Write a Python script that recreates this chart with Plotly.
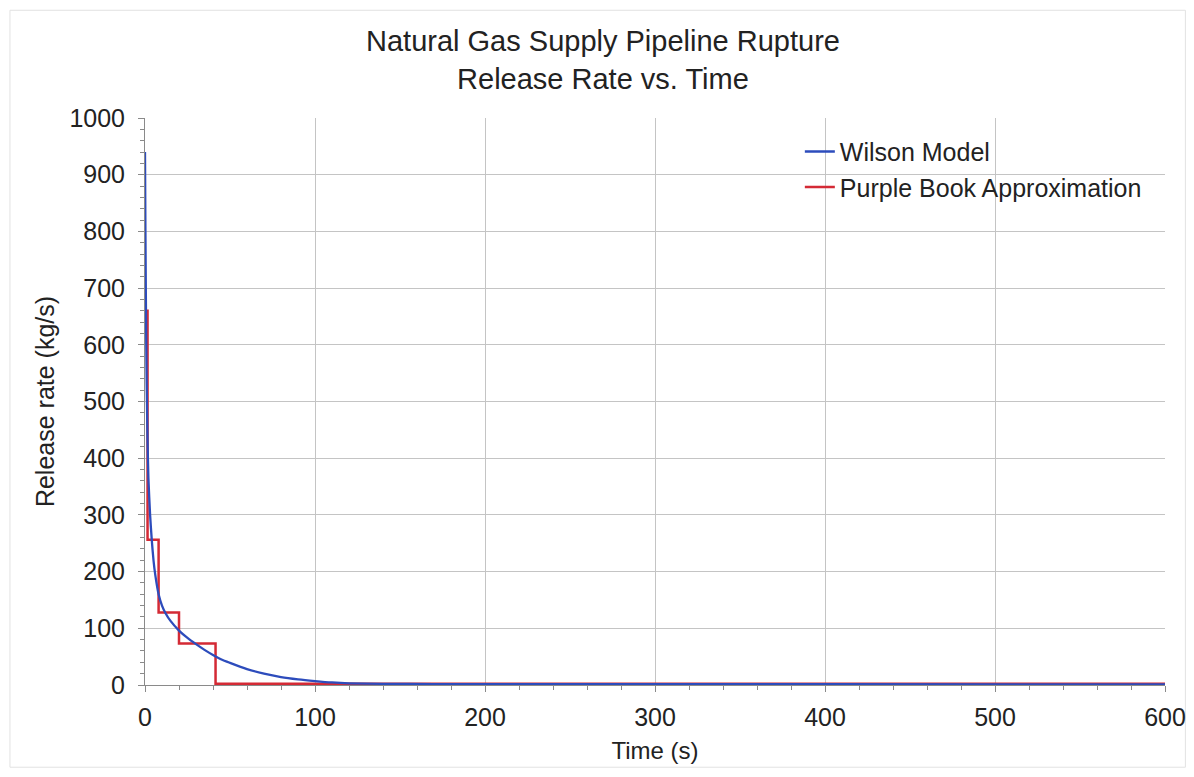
import plotly.graph_objects as go

# Wilson model
wilson_t = [0, 0.25, 0.5, 0.75, 1, 1.5, 2, 3, 4, 5, 6, 8, 10, 12, 15, 20, 25, 30, 35, 40,
            45, 50, 60, 70, 80, 90, 100, 110, 120, 140, 170, 200, 300, 400, 600]
wilson_q = [940, 800, 690, 600, 530, 430, 365, 300, 255, 220, 195, 160, 140, 127, 113, 96, 83, 72, 62, 53,
            45, 39, 28, 20, 14, 10, 7, 4.5, 3, 2, 1.6, 1.5, 1.4, 1.3, 1.2]

# Purple Book step approximation
purple_t = [0, 1.5, 8, 20, 41.5, 600]
purple_q = [660, 256, 128, 73, 2, 2]

x_ticks = [0, 100, 200, 300, 400, 500, 600]
y_ticks = [0, 100, 200, 300, 400, 500, 600, 700, 800, 900, 1000]

title_lines = ["Natural Gas Supply Pipeline Rupture", "Release Rate vs. Time"]

FONT = "Liberation Sans, Arial, sans-serif"
TXT = "#222222"

fig = go.Figure()
fig.add_trace(go.Scatter(x=purple_t, y=purple_q, mode="lines", name="Purple Book Approximation",
                         line=dict(color="#d42a35", width=2.5, shape="hv"), legendrank=2))
fig.add_trace(go.Scatter(x=wilson_t, y=wilson_q, mode="lines", name="Wilson Model",
                         line=dict(color="#2d4cbc", width=2.3, shape="spline", smoothing=0.6), legendrank=1))

axis_common = dict(
    showgrid=True, gridcolor="#c4c4c4", gridwidth=1,
    showline=True, linecolor="#8a8a8a", linewidth=1,
    ticks="outside", ticklen=6, tickcolor="#8a8a8a",
    tickfont=dict(family=FONT, size=25, color=TXT),
    zeroline=False, automargin=False,
)

fig.update_xaxes(range=[0, 600], tickvals=x_ticks, ticktext=[str(v) for v in x_ticks],
                 title=dict(text="Time (s)", font=dict(family=FONT, size=24, color=TXT), standoff=12),
                 minor=dict(dtick=20, ticks="outside", ticklen=4, tickcolor="#8a8a8a", showgrid=False),
                 ticklabelstandoff=4,
                 **axis_common)
fig.update_yaxes(range=[0, 1000], tickvals=y_ticks, ticktext=[str(v) for v in y_ticks],
                 title=dict(text="Release rate (kg/s)", font=dict(family=FONT, size=25, color=TXT), standoff=7),
                 minor=dict(dtick=20, ticks="outside", ticklen=4, tickcolor="#8a8a8a", showgrid=False),
                 ticklabelstandoff=8,
                 **axis_common)

fig.update_layout(
    width=1178, height=761,
    margin=dict(l=137, r=21, t=110, b=84),
    paper_bgcolor="white", plot_bgcolor="white",
    legend=dict(x=0.642, y=0.981, xanchor="left", yanchor="top", bgcolor="rgba(0,0,0,0)",
                font=dict(family=FONT, size=25, color=TXT), itemwidth=30),
    font=dict(family=FONT),
    annotations=[
        dict(text="<br>".join(title_lines), xref="paper", yref="paper", x=0.4495, y=1.102,
             xanchor="center", yanchor="middle", showarrow=False, align="center",
             font=dict(family=FONT, size=29, color=TXT)),
    ],
    shapes=[dict(type="rect", xref="paper", yref="paper", x0=-0.1324, x1=1.02, y0=-0.145, y1=1.19,
                 line=dict(color="#e2e2e2", width=1), fillcolor="rgba(0,0,0,0)", layer="below")],
)

fig.write_html("out.html")
